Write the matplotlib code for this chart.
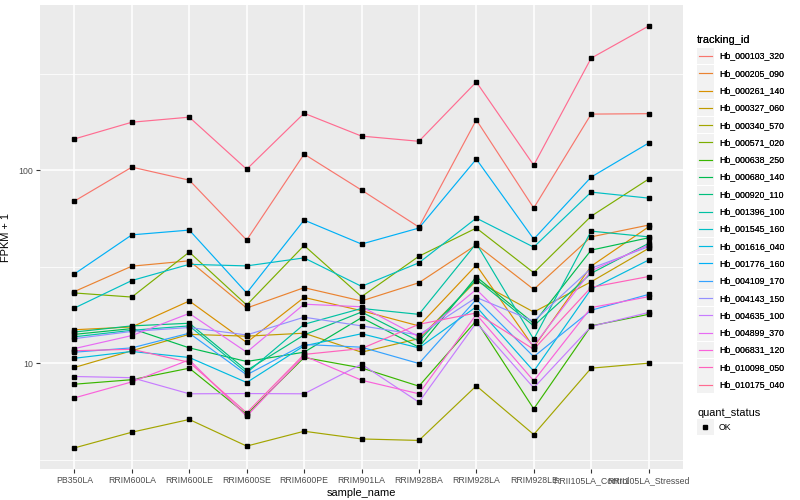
import matplotlib
matplotlib.use('Agg')
import matplotlib.pyplot as plt
from matplotlib.lines import Line2D
from matplotlib.patches import Rectangle
from matplotlib.legend_handler import HandlerBase
from matplotlib.ticker import NullFormatter
import numpy as np

plt.rcParams['font.family'] = ['Liberation Sans', 'DejaVu Sans']

samples = ['PB350LA', 'RRIM600LA', 'RRIM600LE', 'RRIM600SE', 'RRIM600PE',
           'RRIM901LA', 'RRIM928BA', 'RRIM928LA', 'RRIM928LE',
           'RRII105LA_Control', 'RRII105LA_Stressed']

tracking_ids = ['Hb_000103_320', 'Hb_000205_090', 'Hb_000261_140', 'Hb_000327_060',
                'Hb_000340_570', 'Hb_000571_020', 'Hb_000638_250', 'Hb_000680_140',
                'Hb_000920_110', 'Hb_001396_100', 'Hb_001545_160', 'Hb_001616_040',
                'Hb_001776_160', 'Hb_004109_170', 'Hb_004143_150', 'Hb_004635_100',
                'Hb_004899_370', 'Hb_006831_120', 'Hb_010098_050', 'Hb_010175_040']

# ggplot default hue palette, 20 levels
colors = ['#F8766D', '#EA8331', '#D89000', '#C09B00', '#A3A500', '#7CAE00',
          '#39B600', '#00BB4E', '#00BF7D', '#00C1A3', '#00BFC4', '#00BAE0',
          '#00B0F6', '#35A2FF', '#9590FF', '#C77CFF', '#E76BF3', '#FA62DB',
          '#FF62BC', '#FF6C91']

# FPKM + 1, one list per gene, in sample order
hb_000103_320 = [69.1, 103.6, 88.7, 43.4, 121, 78.8, 50.7, 182, 63.6, 195, 196]
hb_000205_090 = [23.5, 31.8, 33.9, 19.3, 24.6, 21.0, 26.1, 41.0, 24.1, 45.1, 51.9]
hb_000261_140 = [14.9, 15.4, 21.0, 12.8, 21.9, 18.7, 15.6, 32.2, 12.1, 31.8, 50.8]
hb_000327_060 = [9.50, 11.6, 14.1, 13.8, 14.3, 11.4, 13.4, 26.7, 18.4, 26.4, 39.3]
hb_000340_570 = [3.64, 4.39, 5.11, 3.72, 4.44, 4.05, 3.98, 7.63, 4.27, 9.42, 10.0]
hb_000571_020 = [23.1, 22.0, 37.6, 20.0, 40.7, 22.1, 35.8, 50.1, 29.4, 57.7, 89.8]
hb_000638_250 = [7.78, 8.21, 9.42, 5.42, 10.7, 9.45, 7.60, 16.6, 5.80, 15.6, 17.9]
hb_000680_140 = [14.1, 15.1, 12.0, 10.2, 11.4, 17.2, 12.1, 28.0, 16.1, 38.5, 44.6]
hb_000920_110 = [14.5, 15.6, 16.1, 9.17, 14.0, 18.4, 13.0, 27.2, 15.6, 29.2, 41.7]
hb_001396_100 = [13.7, 14.8, 15.6, 8.91, 15.9, 19.2, 17.9, 41.7, 13.3, 48.3, 45.1]
hb_001545_160 = [19.3, 26.8, 32.5, 31.9, 35.1, 25.0, 33.1, 56.4, 39.9, 76.9, 71.6]
hb_001616_040 = [10.6, 11.5, 10.7, 7.94, 12.3, 14.2, 12.0, 19.6, 9.09, 24.2, 34.2]
hb_001776_160 = [29.0, 46.2, 48.9, 23.1, 55.1, 41.4, 50.1, 114, 43.9, 92.0, 138]
hb_004109_170 = [11.4, 12.0, 14.3, 8.70, 12.5, 12.1, 9.96, 21.4, 10.8, 18.8, 22.7]
hb_004143_150 = [13.4, 14.6, 15.3, 14.0, 17.3, 15.6, 14.0, 21.9, 16.5, 31.0, 40.1]
hb_004635_100 = [8.53, 8.41, 6.94, 6.96, 6.94, 9.88, 6.28, 16.2, 7.45, 15.5, 18.3]
hb_004899_370 = [11.9, 13.9, 18.1, 11.4, 20.2, 19.6, 13.7, 24.1, 12.3, 30.1, 40.9]
hb_006831_120 = [6.61, 8.00, 10.4, 5.31, 10.9, 8.16, 6.94, 17.9, 8.10, 19.4, 22.1]
hb_010098_050 = [11.6, 11.8, 10.1, 5.53, 11.1, 11.9, 15.9, 18.2, 11.8, 24.7, 28.1]
hb_010175_040 = [145, 177, 188, 101, 197, 150, 141, 286, 106, 380, 557]

series = [hb_000103_320, hb_000205_090, hb_000261_140, hb_000327_060, hb_000340_570,
          hb_000571_020, hb_000638_250, hb_000680_140, hb_000920_110, hb_001396_100,
          hb_001545_160, hb_001616_040, hb_001776_160, hb_004109_170, hb_004143_150,
          hb_004635_100, hb_004899_370, hb_006831_120, hb_010098_050, hb_010175_040]


class KeyHandler(HandlerBase):
    # grey ggplot-like legend key with a line or a square inside
    def create_artists(self, legend, orig_handle, xdescent, ydescent, width, height, fontsize, trans):
        bg = Rectangle((-xdescent, -ydescent), width, height, facecolor='#F2F2F2',
                       edgecolor='none', transform=trans)
        yc = -ydescent + height / 2
        if orig_handle.get_marker() == 's':
            mk = Line2D([-xdescent + width / 2], [yc], marker='s', ms=3.3, color='black',
                        lw=0, transform=trans)
        else:
            mk = Line2D([-xdescent + 1.5, -xdescent + width - 1.5], [yc, yc],
                        color=orig_handle.get_color(), lw=0.85, transform=trans)
        return [bg, mk]


fig = plt.figure(figsize=(8, 5), dpi=100)
ax = fig.add_axes([40 / 800, 31 / 500, 643 / 800, 464 / 500])
ax.set_facecolor('#EBEBEB')

x = np.arange(len(samples))
for vals, col in zip(series, colors):
    ax.plot(x, vals, color=col, lw=0.85, zorder=3)
for vals in series:
    ax.plot(x, vals, 's', color='black', ms=3.3, lw=0, zorder=4)

ax.set_yscale('log')
allv = np.concatenate([np.array(s, float) for s in series])
lo, hi = np.log10(allv.min()), np.log10(allv.max())
pad = 0.05 * (hi - lo)
ax.set_ylim(10 ** (lo - pad), 10 ** (hi + pad))
ax.set_xlim(-0.6, len(samples) - 0.4)

ax.set_yticks([10, 100])
ax.set_yticklabels(['10', '100'])
ax.set_yticks([10 ** 0.5, 10 ** 1.5, 10 ** 2.5], minor=True)
ax.yaxis.set_minor_formatter(NullFormatter())
ax.set_xticks(x)
ax.set_xticklabels(samples)

ax.grid(which='major', color='white', lw=1.1)
ax.grid(which='minor', axis='y', color='white', lw=0.55)
ax.set_axisbelow(True)
for sp in ax.spines.values():
    sp.set_visible(False)
ax.tick_params(which='major', length=3, width=0.8, color='#333333',
               labelsize=6.3, labelcolor='#4D4D4D', pad=2)
ax.tick_params(which='minor', length=0)

ax.set_xlabel('sample_name', fontsize=7.9, labelpad=2)
ax.set_ylabel('FPKM + 1', fontsize=7.9, labelpad=5)

lkw = dict(loc='upper left', frameon=False, handler_map={Line2D: KeyHandler()},
           fontsize=6.3, title_fontsize=7.9, handlelength=1.94, handleheight=2.54,
           labelspacing=0.08, handletextpad=0.55, borderpad=0, borderaxespad=0,
           alignment='left')
handles = [Line2D([], [], color=c) for c in colors]
leg1 = fig.legend(handles, tracking_ids, bbox_to_anchor=(697 / 800, 1 - 37 / 500),
                  title='tracking_id', **lkw)
leg1.get_title().set_y(2)
fig.add_artist(leg1)
ok = [Line2D([], [], marker='s', color='black', lw=0)]
leg2 = fig.legend(ok, ['OK'], bbox_to_anchor=(697 / 800, 1 - 408 / 500),
                  title='quant_status', **lkw)

fig.savefig('out.png', dpi=100)
